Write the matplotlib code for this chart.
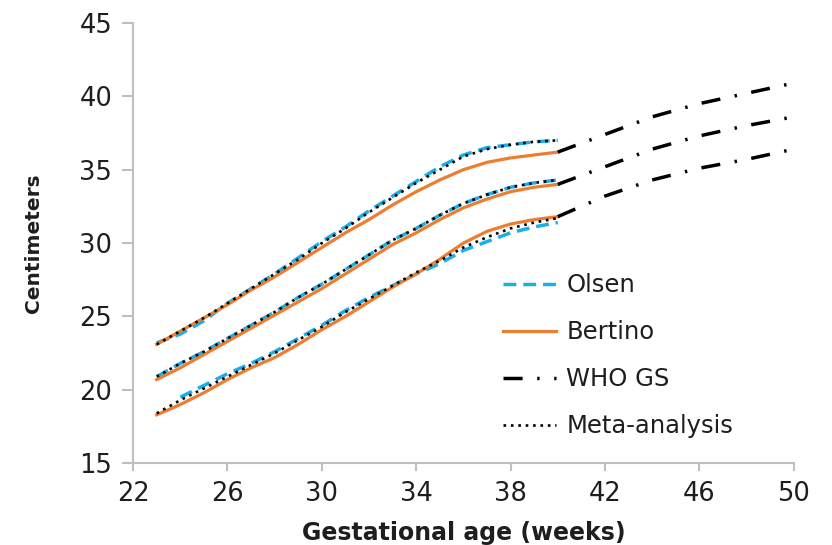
#!/usr/bin/env python3
# -*- coding: utf-8 -*-
"""
Head circumference curves: Olsen, Bertino, WHO GS and meta-analysis.
"""

import matplotlib
matplotlib.use("Agg")
import matplotlib.pyplot as plt

### data (cm) for the three percentile bands
weeks = [23, 24, 25, 26, 27, 28, 29, 30, 31, 32, 33, 34, 35, 36, 37, 38, 39, 40]
weeks_olsen_low = weeks[1:]
weeks_who = [40, 42, 44, 46, 48, 50]

olsen_top = [23.2, 23.8, 24.7, 25.9, 26.9, 27.9, 29.0, 30.1, 31.1, 32.2, 33.2, 34.2, 35.2, 36.0, 36.5, 36.7, 36.9, 37.0]
olsen_mid = [20.9, 21.8, 22.6, 23.5, 24.4, 25.3, 26.3, 27.2, 28.2, 29.2, 30.2, 31.0, 31.9, 32.7, 33.3, 33.8, 34.1, 34.3]
olsen_low = [19.5, 20.3, 21.1, 21.8, 22.6, 23.5, 24.4, 25.4, 26.3, 27.1, 27.9, 28.6, 29.5, 30.1, 30.7, 31.1, 31.4]

bertino_top = [23.1, 24.0, 24.9, 25.8, 26.8, 27.7, 28.7, 29.7, 30.7, 31.6, 32.6, 33.5, 34.3, 35.0, 35.5, 35.8, 36.0, 36.2]
bertino_mid = [20.7, 21.5, 22.4, 23.3, 24.2, 25.1, 26.0, 26.9, 27.9, 28.9, 29.9, 30.7, 31.6, 32.4, 33.0, 33.5, 33.8, 34.0]
bertino_low = [18.3, 19.0, 19.8, 20.7, 21.5, 22.2, 23.1, 24.1, 25.0, 26.0, 27.0, 27.9, 28.9, 30.0, 30.8, 31.3, 31.6, 31.8]

meta_top = [23.1, 24.0, 24.9, 25.9, 26.9, 27.9, 28.9, 30.0, 31.0, 32.1, 33.1, 34.1, 35.0, 35.9, 36.4, 36.7, 36.9, 37.0]
meta_mid = [20.9, 21.8, 22.6, 23.5, 24.4, 25.3, 26.3, 27.2, 28.2, 29.2, 30.2, 31.0, 31.9, 32.7, 33.3, 33.8, 34.1, 34.3]
meta_low = [18.4, 19.3, 20.1, 20.9, 21.7, 22.5, 23.4, 24.3, 25.3, 26.2, 27.1, 28.0, 28.8, 29.7, 30.4, 31.0, 31.4, 31.7]

who_top = [36.2, 37.4, 38.6, 39.5, 40.2, 40.9]
who_mid = [34.0, 35.2, 36.4, 37.3, 38.0, 38.6]
who_low = [31.8, 33.2, 34.3, 35.1, 35.7, 36.4]

x_ticks = [22, 26, 30, 34, 38, 42, 46, 50]
y_ticks = [15, 20, 25, 30, 35, 40, 45]

# styles
c_olsen = '#1AAFE8'
c_bertino = '#ED7D31'
grey = '#BFBFBF'
txt = '#1E1E1E'

plt.rcParams['font.family'] = ['DejaVu Sans']

fig = plt.figure(figsize=(8.32, 5.45), dpi=100)
ax = fig.add_axes([0.160, 0.150, 0.794, 0.808])

# Olsen
st_o = dict(color=c_olsen, lw=2.5, dashes=(3.7, 2.0), zorder=2)
ax.plot(weeks, olsen_top, label='Olsen', **st_o)
ax.plot(weeks, olsen_mid, **st_o)
ax.plot(weeks_olsen_low, olsen_low, **st_o)

# Bertino
st_b = dict(color=c_bertino, lw=2.3, zorder=3)
ax.plot(weeks, bertino_top, label='Bertino', **st_b)
ax.plot(weeks, bertino_mid, **st_b)
ax.plot(weeks, bertino_low, **st_b)

# WHO GS
st_w = dict(color='black', lw=2.5, dashes=(5.5, 4.2, 0.7, 4.2), zorder=4)
ax.plot(weeks_who, who_top, label='WHO GS', **st_w)
ax.plot(weeks_who, who_mid, **st_w)
ax.plot(weeks_who, who_low, **st_w)

# Meta-analysis
st_m = dict(color='black', lw=1.9, dashes=(1.0, 1.8), zorder=5)
ax.plot(weeks, meta_top, label='Meta-analysis', **st_m)
ax.plot(weeks, meta_mid, **st_m)
ax.plot(weeks, meta_low, **st_m)

# axes
ax.set_xlim(22, 50)
ax.set_ylim(15, 45)
ax.set_xticks(x_ticks)
ax.set_yticks(y_ticks)
for s in ['top', 'right']:
    ax.spines[s].set_visible(False)
for s in ['left', 'bottom']:
    ax.spines[s].set_color(grey)
    ax.spines[s].set_linewidth(1.5)
ax.tick_params(axis='both', colors=grey, labelcolor=txt, labelsize=18.5, width=1.5)
ax.tick_params(axis='y', length=8, pad=7)
ax.tick_params(axis='x', length=6, pad=7)

ax.set_xlabel('Gestational age (weeks)', fontsize=17, fontweight='bold', color=txt, labelpad=10)
ax.set_ylabel('Centimeters', fontsize=14.5, fontweight='bold', color=txt, labelpad=26)

leg = ax.legend(loc='upper left', bbox_to_anchor=(0.6046, 0.499), bbox_transform=fig.transFigure,
                frameon=False, fontsize=17.5, handlelength=2.2, handletextpad=0.4,
                labelspacing=0.95, borderpad=0, borderaxespad=0)
for t in leg.get_texts():
    t.set_color(txt)

fig.savefig('out.png', dpi=100)
plt.close()
